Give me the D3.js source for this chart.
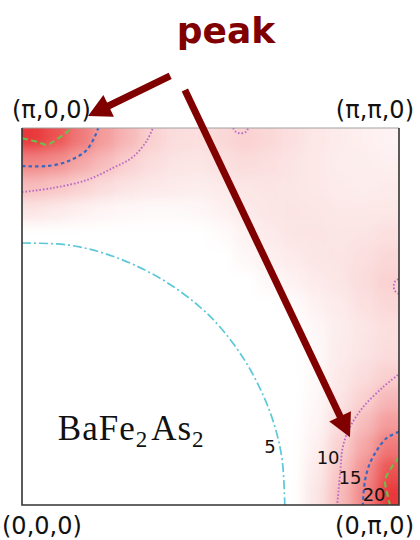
<!DOCTYPE html>
<html>
<head>
<meta charset="utf-8">
<script src="https://cdn.jsdelivr.net/npm/d3@7"></script>
<style>
  html, body { margin: 0; padding: 0; background: #fff; }
  svg { display: block; }
</style>
</head>
<body>
<svg id="paper"></svg>
<script>
// intensity map, rows from top (k = pi) to bottom (k = 0), columns left to right
const heatRows = [
  [24, 21.5, 18, 15, 12.5, 10.2, 9.3, 9.2, 9.6, 10.1, 9.6, 9.1, 8.7, 8.4, 8.1, 7.9],
  [17, 16, 14, 12, 10.2, 9.3, 8.9, 8.8, 9.1, 9.4, 9.2, 8.9, 8.6, 8.3, 8.2, 8.1],
  [12, 11.2, 10.2, 9.4, 8.9, 8.6, 8.4, 8.3, 8.5, 8.8, 8.9, 8.8, 8.6, 8.4, 8.3, 8.4],
  [8.8, 8.5, 8.1, 7.7, 7.5, 7.4, 7.4, 7.6, 8.0, 8.5, 8.8, 8.9, 8.8, 8.6, 8.6, 8.7],
  [5.6, 5.6, 5.6, 5.8, 5.9, 6.1, 6.4, 6.8, 7.3, 7.9, 8.5, 8.9, 8.9, 8.8, 8.9, 9.1],
  [4.6, 4.7, 4.8, 5.0, 5.2, 5.5, 6.0, 6.5, 7.0, 7.5, 8.1, 8.5, 8.8, 8.9, 9.2, 9.6],
  [3.9, 4.0, 4.1, 4.3, 4.5, 4.9, 5.3, 5.8, 6.4, 6.9, 7.5, 7.9, 8.5, 8.8, 9.4, 10.1],
  [3.3, 3.4, 3.5, 3.7, 4.0, 4.3, 4.6, 5.1, 5.6, 6.4, 7.0, 7.3, 8.0, 8.5, 9.1, 9.6],
  [2.8, 2.9, 3.0, 3.2, 3.5, 3.8, 4.1, 4.6, 5.1, 5.8, 6.5, 6.8, 7.6, 8.3, 8.8, 9.2],
  [2.4, 2.4, 2.6, 2.8, 3.0, 3.3, 3.7, 4.1, 4.6, 5.3, 6.0, 6.4, 7.4, 8.4, 8.9, 9.3],
  [2.0, 2.0, 2.2, 2.4, 2.6, 2.9, 3.3, 3.8, 4.3, 4.9, 5.5, 6.1, 7.4, 8.6, 9.3, 10.2],
  [1.7, 1.7, 1.9, 2.0, 2.3, 2.6, 3.0, 3.5, 4.0, 4.5, 5.2, 5.9, 7.5, 8.9, 10.2, 12.5],
  [1.4, 1.5, 1.6, 1.8, 2.0, 2.4, 2.8, 3.2, 3.7, 4.3, 5.0, 5.8, 7.7, 9.4, 12, 15],
  [1.2, 1.3, 1.4, 1.6, 1.9, 2.2, 2.6, 3.0, 3.5, 4.1, 4.8, 5.6, 8.1, 10.2, 14, 18],
  [1.1, 1.2, 1.3, 1.5, 1.7, 2.0, 2.4, 2.9, 3.4, 4.0, 4.7, 5.6, 8.5, 11.2, 16, 21.5],
  [1.0, 1.1, 1.2, 1.4, 1.7, 2.0, 2.4, 2.8, 3.3, 3.9, 4.6, 5.6, 8.8, 12, 17, 24]
];
const colorStops = [7, 8.5, 10, 15, 20, 24];
const colorRange = ["#ffffff", "#fdeaea", "#fad2d2", "#f49c9c", "#ee6262", "#e8373a"];

// contour lines, [x, y] in units of pi
const contour5 = [[0, 0.695], [0.12, 0.69], [0.21, 0.67], [0.295, 0.638], [0.385, 0.59], [0.47, 0.527],
  [0.527, 0.47], [0.59, 0.385], [0.638, 0.295], [0.67, 0.21], [0.69, 0.12], [0.697, 0]];
const contour10TL = [[0, 0.83], [0.082, 0.841], [0.172, 0.862], [0.241, 0.894], [0.294, 0.923], [0.332, 0.968], [0.347, 1]];
const contour10BR = [[0.997, 0.345], [0.958, 0.313], [0.905, 0.26], [0.87, 0.207], [0.851, 0.154], [0.844, 0.085], [0.836, 0]];
const contour10Top = [[0.56, 1], [0.567, 0.99], [0.58, 0.986], [0.594, 0.99], [0.6, 1]];
const contour10Right = [[1, 0.56], [0.99, 0.567], [0.986, 0.58], [0.99, 0.594], [1, 0.6]];
const contour15TL = [[0, 0.899], [0.066, 0.899], [0.109, 0.907], [0.135, 0.918], [0.159, 0.931], [0.172, 0.942], [0.186, 0.963], [0.194, 0.979], [0.202, 1]];
const contour15BR = [[1, 0.194], [0.968, 0.178], [0.942, 0.146], [0.923, 0.111], [0.91, 0.066], [0.904, 0]];
const contour20TL = [[0, 0.973], [0.021, 0.968], [0.042, 0.963], [0.066, 0.955], [0.082, 0.963], [0.101, 0.976], [0.119, 0.989], [0.13, 1]];
const contour20BR = [[1, 0.127], [0.981, 0.101], [0.963, 0.066], [0.968, 0.034], [0.976, 0]];

const levelLabels = ["5", "10", "15", "20"];
const levelLabelAt = [[0.658, 0.154], [0.812, 0.127], [0.87, 0.074], [0.934, 0.029]];
const cornerLabels = ["(0,0,0)", "(π,0,0)", "(0,π,0)", "(π,π,0)"];
const arrowLines = [
  [[0.393, 1.138], [0.175, 1.032]],
  [[0.432, 1.101], [0.87, 0.18]]
];

const width = 420, height = 540;
const plot = { left: 22, top: 128, size: 377 };

const x = d3.scaleLinear().domain([0, 1]).range([plot.left, plot.left + plot.size]);
const y = d3.scaleLinear().domain([0, 1]).range([plot.top + plot.size, plot.top]);
const col = d3.scaleBand().domain(d3.range(heatRows[0].length)).range(x.range());
const row = d3.scaleBand().domain(d3.range(heatRows.length)).range([plot.top, plot.top + plot.size]);
const color = d3.scaleLinear().domain(colorStops).range(colorRange).clamp(true);

const svg = d3.select("#paper").attr("width", width).attr("height", height);
const defs = svg.append("defs");

defs.append("clipPath").attr("id", "plot-clip")
  .append("rect")
  .attr("x", x(0)).attr("y", y(1))
  .attr("width", x(1) - x(0)).attr("height", y(0) - y(1));

defs.append("filter").attr("id", "soft")
  .attr("filterUnits", "userSpaceOnUse")
  .attr("x", 0).attr("y", 0).attr("width", width).attr("height", height)
  .append("feGaussianBlur").attr("stdDeviation", 7);

// heat map
const n = heatRows.length;
const pad = 30; // edge cells run past the frame so the blur does not fade them
const cells = heatRows.flatMap((r, i) => r.map((v, j) => ({ i, j, v })));

svg.append("g").attr("clip-path", "url(#plot-clip)")
  .append("g").attr("filter", "url(#soft)")
  .selectAll("rect")
  .data(cells)
  .enter()
  .append("rect")
  .attr("x", (d) => col(d.j) - (d.j === 0 ? pad : 0))
  .attr("y", (d) => row(d.i) - (d.i === 0 ? pad : 0))
  .attr("width", (d) => col.bandwidth() + 0.6 + (d.j === 0 || d.j === n - 1 ? pad : 0))
  .attr("height", (d) => row.bandwidth() + 0.6 + (d.i === 0 || d.i === n - 1 ? pad : 0))
  .attr("fill", (d) => color(d.v));

// contours
const line = d3.line()
  .x((d) => x(d[0]))
  .y((d) => y(d[1]))
  .curve(d3.curveCatmullRom.alpha(0.5));

const styles = {
  5: { stroke: "#5cc8d8", dash: "9,3,2,3", width: 1.7 },
  10: { stroke: "#b86cc8", dash: "1.6,1.9", width: 1.9 },
  15: { stroke: "#3868c0", dash: "3.5,3", width: 2.2 },
  20: { stroke: "#6cbf4a", dash: "6,3.5", width: 2.1 }
};
const contours = [
  { level: 5, pts: contour5 },
  { level: 10, pts: contour10TL }, { level: 10, pts: contour10BR },
  { level: 10, pts: contour10Top }, { level: 10, pts: contour10Right },
  { level: 15, pts: contour15TL }, { level: 15, pts: contour15BR },
  { level: 20, pts: contour20TL }, { level: 20, pts: contour20BR }
];

svg.append("g").attr("clip-path", "url(#plot-clip)")
  .selectAll("path")
  .data(contours)
  .enter()
  .append("path")
  .attr("d", (c) => line(c.pts))
  .attr("fill", "none")
  .attr("stroke", (c) => styles[c.level].stroke)
  .attr("stroke-width", (c) => styles[c.level].width)
  .attr("stroke-dasharray", (c) => styles[c.level].dash);

svg.append("g")
  .selectAll("text")
  .data(levelLabels)
  .enter()
  .append("text")
  .attr("x", (t, i) => x(levelLabelAt[i][0]))
  .attr("y", (t, i) => y(levelLabelAt[i][1]))
  .attr("text-anchor", "middle")
  .attr("dominant-baseline", "central")
  .attr("font-family", "'DejaVu Sans', sans-serif")
  .attr("font-size", 18)
  .attr("fill", "#111")
  .text((t) => t);

// frame
const frame = svg.append("g").attr("fill", "none");
frame.append("line")
  .attr("x1", x(0)).attr("x2", x(1)).attr("y1", y(1)).attr("y2", y(1))
  .attr("stroke", "#a0a0a0").attr("stroke-width", 1);
frame.append("path")
  .attr("d", `M${x(0)},${y(1)}V${y(0)}H${x(1)}V${y(1)}`)
  .attr("stroke", "#333").attr("stroke-width", 1.6);

// compound label
const formula = svg.append("text")
  .attr("x", x(0.095)).attr("y", y(0.172))
  .attr("font-family", "'Liberation Serif', 'Times New Roman', serif")
  .attr("font-size", 35)
  .attr("letter-spacing", 1)
  .attr("fill", "#111");
formula.append("tspan").text("BaFe");
formula.append("tspan").attr("dy", 7).attr("font-size", 23).text("2");
formula.append("tspan").attr("dy", -7).attr("dx", 3).text("As");
formula.append("tspan").attr("dy", 7).attr("font-size", 23).text("2");

// corner labels: (0,0) bottom-left, (1,0) top-left, (0,1) bottom-right, (1,1) top-right
const corners = [
  { kx: 0, ky: 0, dx: -20, dy: 29, anchor: "start" },
  { kx: 0, ky: 1, dx: -10, dy: -10, anchor: "start" },
  { kx: 1, ky: 0, dx: 15, dy: 29, anchor: "end" },
  { kx: 1, ky: 1, dx: 15, dy: -10, anchor: "end" }
];
svg.append("g")
  .selectAll("text")
  .data(cornerLabels)
  .enter()
  .append("text")
  .attr("x", (t, i) => x(corners[i].kx) + corners[i].dx)
  .attr("y", (t, i) => y(corners[i].ky) + corners[i].dy)
  .attr("text-anchor", (t, i) => corners[i].anchor)
  .attr("font-family", "'DejaVu Sans', sans-serif")
  .attr("font-size", 24)
  .attr("fill", "#111")
  .text((t) => t);

// peak annotation
const arrowColor = "#800000";
svg.append("text")
  .attr("x", 226).attr("y", 43)
  .attr("text-anchor", "middle")
  .attr("font-family", "'DejaVu Sans', sans-serif")
  .attr("font-weight", "bold")
  .attr("font-size", 36)
  .attr("fill", arrowColor)
  .text("peak");

const headLen = 23, headHalf = 12;
const arrows = svg.append("g");
arrowLines.forEach((a) => {
  const p0 = [x(a[0][0]), y(a[0][1])];
  const p1 = [x(a[1][0]), y(a[1][1])];
  const len = Math.hypot(p1[0] - p0[0], p1[1] - p0[1]);
  const u = [(p1[0] - p0[0]) / len, (p1[1] - p0[1]) / len];
  const nrm = [-u[1], u[0]];
  const base = [p1[0] - u[0] * headLen, p1[1] - u[1] * headLen];
  arrows.append("line")
    .attr("x1", p0[0]).attr("y1", p0[1])
    .attr("x2", base[0] + u[0] * 2).attr("y2", base[1] + u[1] * 2)
    .attr("stroke", arrowColor).attr("stroke-width", 7);
  arrows.append("polygon")
    .attr("points", [p1,
      [base[0] + nrm[0] * headHalf, base[1] + nrm[1] * headHalf],
      [base[0] - nrm[0] * headHalf, base[1] - nrm[1] * headHalf]].join(" "))
    .attr("fill", arrowColor);
});
</script>
</body>
</html>
